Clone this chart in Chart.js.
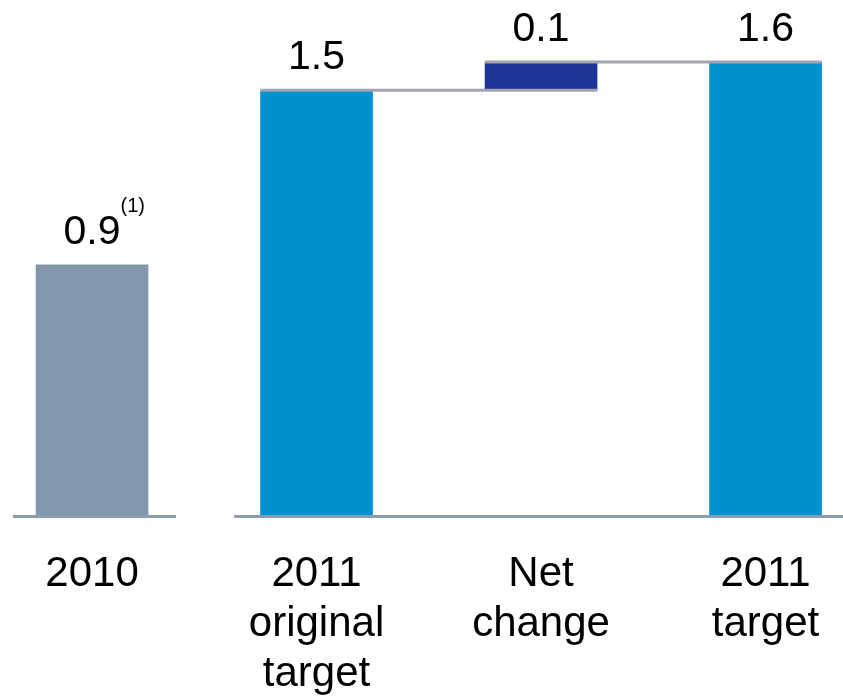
<!DOCTYPE html>
<html>
<head>
<meta charset="utf-8">
<script src="https://cdn.jsdelivr.net/npm/chart.js@4/dist/chart.umd.min.js"></script>
<style>
  html, body { margin: 0; padding: 0; background: #fff; }
  #chart { display: block; }
</style>
</head>
<body>
<canvas id="chart" width="843" height="697"></canvas>
<script>
// Données du graphique (cascade)
const categories = [["2010"], ["2011", "original", "target"], ["Net", "change"], ["2011", "target"]];
const barStarts = [0, 0, 1.5, 0];
const barEnds = [0.885, 1.5, 1.6, 1.6];
const valueLabels = ["0.9", "1.5", "0.1", "1.6"];
const footnotes = ["(1)", "", "", ""];
const barColors = ["#8297ab", "#0091d0", "#1b3496", "#0091d0"];

const FONT = "'Liberation Sans', Arial, sans-serif";

// Lignes de liaison entre les barres, libellés de valeurs et axe de base
const waterfallDecor = {
    id: "waterfallDecor",
    afterDatasetsDraw(chart) {
        const ctx = chart.ctx;
        const bars = chart.getDatasetMeta(0).data;
        const x = chart.scales.x;
        const y = chart.scales.y;

        // connecteurs gris
        ctx.save();
        ctx.strokeStyle = "#a3a4ad";
        ctx.lineWidth = 3;
        for (let i = 1; i < bars.length - 1; i++) {
            const level = y.getPixelForValue(barEnds[i]);
            const x0 = bars[i].x - bars[i].width / 2;
            const x1 = bars[i + 1].x + bars[i + 1].width / 2;
            ctx.beginPath();
            ctx.moveTo(x0, level);
            ctx.lineTo(x1, level);
            ctx.stroke();
        }

        // ligne de base en deux segments
        const base = y.getPixelForValue(0) + 0.5;
        ctx.strokeStyle = "#8a9bb2";
        [[-0.352, 0.374], [0.633, x.max]].forEach(seg => {
            ctx.beginPath();
            ctx.moveTo(x.getPixelForValue(seg[0]), base);
            ctx.lineTo(x.getPixelForValue(seg[1]), base);
            ctx.stroke();
        });

        // libellés des valeurs
        ctx.fillStyle = "#000";
        ctx.textBaseline = "alphabetic";
        bars.forEach((bar, i) => {
            const top = y.getPixelForValue(barEnds[i]) - 21;
            ctx.font = "41px " + FONT;
            ctx.textAlign = "center";
            ctx.fillText(valueLabels[i], bar.x, top);
            if (footnotes[i]) {
                const w = ctx.measureText(valueLabels[i]).width;
                ctx.font = "20px " + FONT;
                ctx.textAlign = "left";
                ctx.fillText(footnotes[i], bar.x + w / 2, top - 32);
            }
        });
        ctx.restore();
    }
};

new Chart(document.getElementById("chart"), {
    type: "bar",
    data: {
        datasets: [{
            data: categories.map((c, i) => ({ x: i, y: [barStarts[i], barEnds[i]] })),
            backgroundColor: barColors,
            borderWidth: 0,
            barThickness: 112
        }]
    },
    options: {
        responsive: false,
        animation: false,
        layout: { padding: 0 },
        plugins: {
            legend: { display: false },
            tooltip: { enabled: false }
        },
        scales: {
            x: {
                type: "linear",
                offset: false,
                bounds: "data",
                min: -0.41,
                max: 3.345,
                grid: { display: false, drawTicks: false, offset: false },
                border: { display: false },
                ticks: {
                    autoSkip: false,
                    maxRotation: 0,
                    padding: 33,
                    color: "#000",
                    font: { family: FONT, size: 42, lineHeight: 1.19 },
                    callback: value => categories[value] || ""
                },
                // une graduation par catégorie
                afterBuildTicks: scale => {
                    scale.ticks = categories.map((c, i) => ({ value: i }));
                },
                afterFit: scale => {
                    scale.height = 181;
                    scale.paddingLeft = 0;
                    scale.paddingRight = 0;
                }
            },
            y: {
                display: false,
                min: 0,
                max: 1.8185
            }
        }
    },
    plugins: [waterfallDecor]
});
</script>
</body>
</html>
